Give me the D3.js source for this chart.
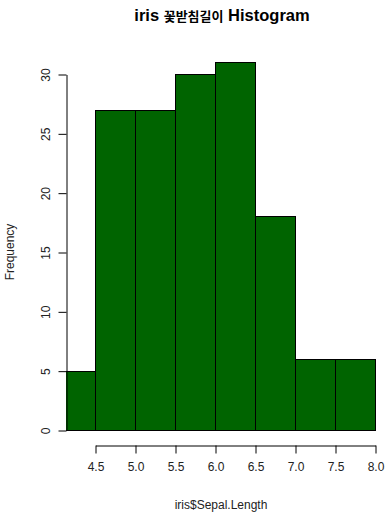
<!DOCTYPE html>
<html>
<head>
<meta charset="utf-8">
<script src="https://cdn.jsdelivr.net/npm/d3@7"></script>
<style>
body { margin: 0; background: #fff; }
svg text { font-family: "Liberation Sans", Arial, sans-serif; fill: #222; }
.title { font-weight: bold; font-size: 16.5px; fill: #000; }
.axis text { font-size: 12px; }
.axis path, .axis line { stroke: #000; }
</style>
</head>
<body>
<svg width="392" height="520"></svg>
<script>

// histogram bins (left edge, right edge) and counts
var binStarts = [4.0, 4.5, 5.0, 5.5, 6.0, 6.5, 7.0, 7.5];
var binEnds   = [4.5, 5.0, 5.5, 6.0, 6.5, 7.0, 7.5, 8.0];
var counts    = [5, 27, 27, 30, 31, 18, 6, 6];
var xTicks = [4.5, 5.0, 5.5, 6.0, 6.5, 7.0, 7.5, 8.0];
var yTicks = [0, 5, 10, 15, 20, 25, 30];

var svg = d3.select("svg");

var x = d3.scaleLinear().domain([4.5, 8.0]).range([95, 375]);
var y = d3.scaleLinear().domain([0, 30]).range([430, 74]);

var plotLeft = 66;

svg.append("defs").append("clipPath")
	.attr("id", "plotclip")
	.append("rect")
	.attr("x", plotLeft).attr("y", 0)
	.attr("width", 392 - plotLeft).attr("height", 520);

svg.append("g")
	.attr("clip-path", "url(#plotclip)")
	.selectAll("rect")
	.data(counts)
	.enter().append("rect")
	.attr("x", function(d, i) { return x(binStarts[i]) + 0.5; })
	.attr("y", function(d) { return Math.round(y(d)) + 0.5; })
	.attr("width", function(d, i) { return x(binEnds[i]) - x(binStarts[i]); })
	.attr("height", function(d) { return Math.round(y(0)) - Math.round(y(d)); })
	.attr("fill", "#006400")
	.attr("stroke", "#000")
	.attr("stroke-width", 1);

// x axis
var xAxis = svg.append("g")
	.attr("class", "axis")
	.attr("transform", "translate(0.5,445.5)")
	.call(d3.axisBottom(x).tickValues(xTicks).tickSize(8).tickSizeOuter(0)
		.tickFormat(d3.format(".1f")));
xAxis.selectAll("text").attr("y", 17);

// y axis, labels turned sideways like R
var yAxis = svg.append("g")
	.attr("class", "axis")
	.attr("transform", "translate(" + (plotLeft + 0.5) + ",0.5)")
	.call(d3.axisLeft(y).tickValues(yTicks).tickSize(8).tickSizeOuter(0));
yAxis.selectAll(".tick text")
	.attr("x", 0).attr("y", 0)
	.attr("dy", "0.35em")
	.attr("text-anchor", "middle")
	.attr("transform", "translate(-21,0) rotate(-90)");

// labels
svg.append("text")
	.attr("class", "title")
	.attr("x", 222).attr("y", 21)
	.attr("text-anchor", "middle")
	.html('iris <tspan style="font-family:\'Noto Sans CJK KR\';font-size:13px;font-weight:bold">꽃받침길이</tspan> Histogram');

svg.append("text")
	.attr("x", 221).attr("y", 509)
	.attr("text-anchor", "middle")
	.style("font-size", "12px")
	.text("iris$Sepal.Length");

svg.append("text")
	.attr("transform", "translate(14,252) rotate(-90)")
	.attr("text-anchor", "middle")
	.style("font-size", "12px")
	.text("Frequency");

</script>
</body>
</html>
